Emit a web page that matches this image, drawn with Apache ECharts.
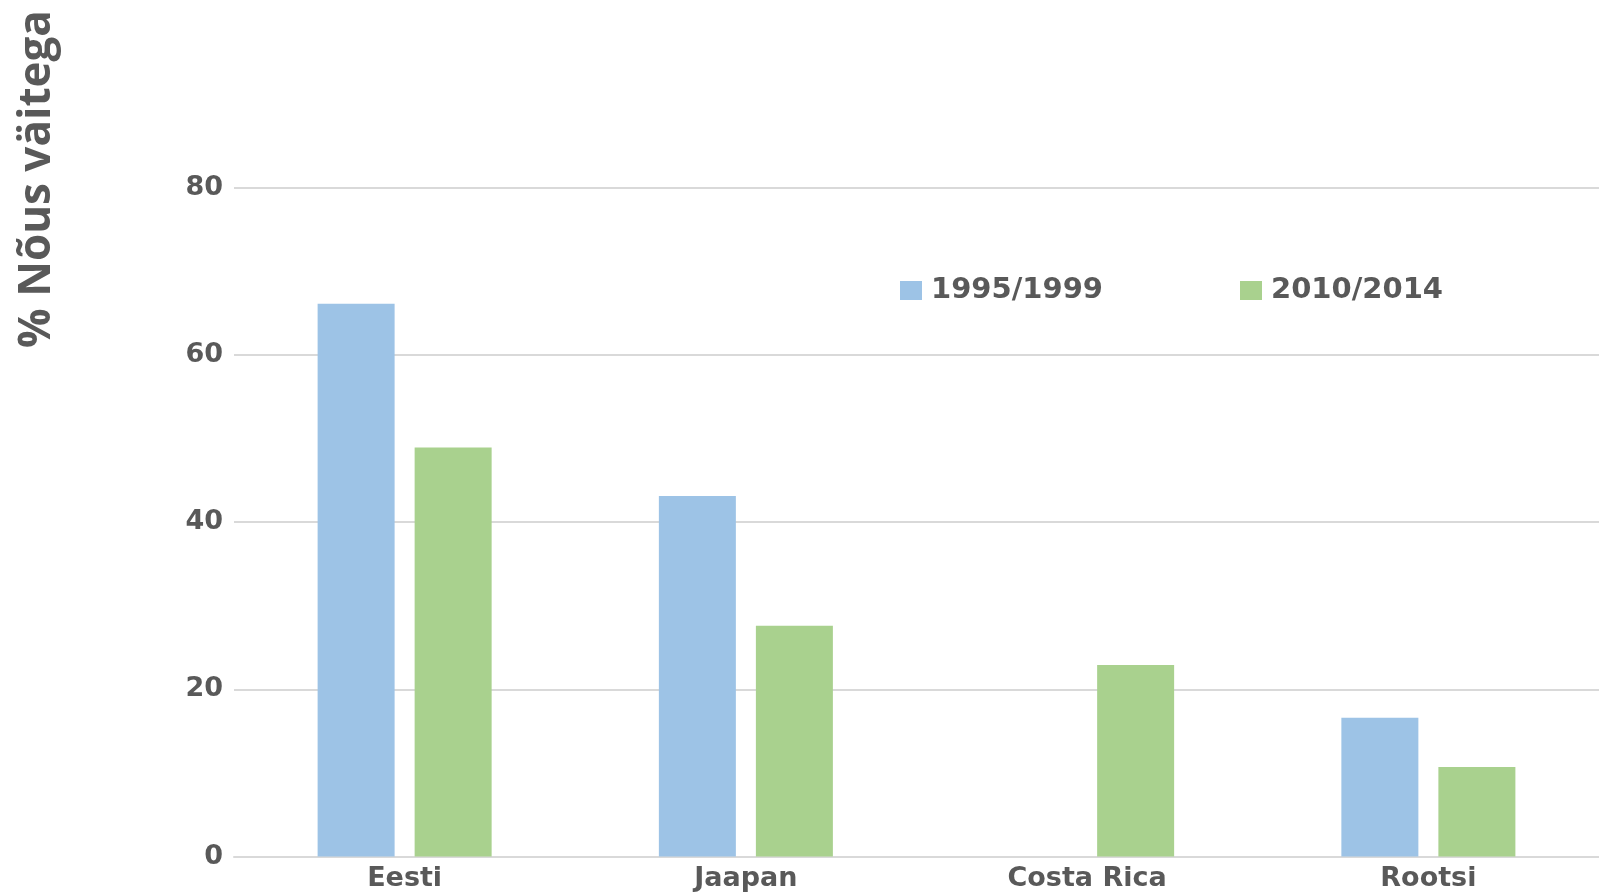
<!DOCTYPE html>
<html>
<head>
<meta charset="utf-8">
<script src="https://cdn.jsdelivr.net/npm/echarts@6/dist/echarts.min.js"></script>
<style>
html,body{margin:0;padding:0;background:#fff;}
#chart{width:1599px;height:894px;}
</style>
</head>
<body>
<div id="chart"></div>
<script>
const categories = ['Eesti', 'Jaapan', 'Costa Rica', 'Rootsi'];
const seriesNames = ['1995/1999', '2010/2014'];
const values1995 = [66.1, 43.1, null, 16.6];
const values2010 = [48.9, 27.6, 22.9, 10.7];
const yTicks = [0, 20, 40, 60, 80];
const yTitle = '% Nõus väitega';

const textColor = '#595959';
const font = 'DejaVu Sans';
const chart = echarts.init(document.getElementById('chart'));
chart.setOption({
  animation: false,
  backgroundColor: '#fff',
  grid: { left: 234, right: 0, top: 187.5, bottom: 37.5, containLabel: false },
  legend: {
    left: 895, top: 271,
    itemWidth: 22, itemHeight: 19, itemGap: 137,
    icon: 'rect',
    data: seriesNames,
    textStyle: { color: textColor, fontFamily: font, fontWeight: 'bold', fontSize: 29, padding: [0, 0, 0, 4] }
  },
  xAxis: {
    type: 'category',
    data: categories,
    axisLine: { lineStyle: { color: '#d9d9d9', width: 2 } },
    axisTick: { show: false },
    axisLabel: { color: textColor, fontFamily: font, fontWeight: 'bold', fontSize: 27, margin: 9 }
  },
  yAxis: {
    type: 'value',
    min: yTicks[0], max: yTicks[yTicks.length - 1], interval: 20,
    axisLine: { show: false },
    axisTick: { show: false },
    splitLine: { lineStyle: { color: '#d9d9d9', width: 2 } },
    axisLabel: { color: textColor, fontFamily: font, fontWeight: 'bold', fontSize: 27, margin: 11 }
  },
  graphic: [{
    type: 'text',
    x: 37, y: 179,
    rotation: Math.PI / 2,
    style: {
      text: yTitle,
      fill: textColor,
      font: 'bold 44px "Open Sans"',
      align: 'center',
      verticalAlign: 'middle'
    }
  }],
  series: [
    { name: seriesNames[0], type: 'bar', data: values1995, barWidth: 77, barGap: '26%', itemStyle: { color: '#9DC3E6' } },
    { name: seriesNames[1], type: 'bar', data: values2010, barWidth: 77, itemStyle: { color: '#A9D18E' } }
  ]
});
</script>
</body>
</html>
